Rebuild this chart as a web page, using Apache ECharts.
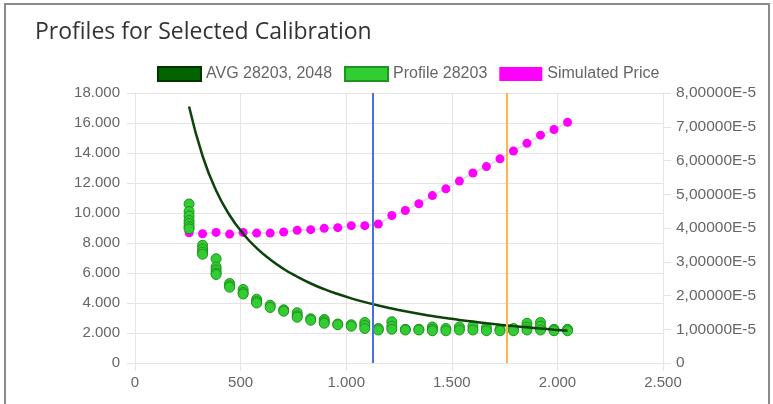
<!DOCTYPE html>
<html>
<head>
<meta charset="utf-8">
<script src="https://cdn.jsdelivr.net/npm/echarts@6/dist/echarts.min.js"></script>
<style>
html,body{margin:0;padding:0;background:#fff;}
#chart{width:773px;height:404px;}
</style>
</head>
<body>
<div id="chart"></div>
<script>
const titleText = 'Profiles for Selected Calibration';
const seriesNames = ['AVG 28203, 2048', 'Profile 28203', 'Simulated Price'];
const xValues = [256, 320, 384, 448, 512, 576, 640, 704, 768, 832, 896, 960, 1024, 1088, 1152,
  1216, 1280, 1344, 1408, 1472, 1536, 1600, 1664, 1728, 1792, 1856, 1920, 1984, 2048];
const avgValues = [17100, 13800, 11500, 9850, 8620, 7660, 6900, 6270, 5750, 5300, 4920, 4600, 4310, 4060, 3830,
  3630, 3450, 3290, 3130, 3000, 2870, 2760, 2650, 2550, 2460, 2380, 2300, 2220, 2150];
const profileValues = [
  [10600, 10100, 9800, 9500, 9300, 9100, 8950],
  [7850, 7600, 7400, 7250],
  [6950, 6400, 6200, 6000, 5900],
  [5300, 5150, 5050],
  [4900, 4700, 4600],
  [4250, 4100, 4000],
  [3850, 3700],
  [3550, 3450],
  [3350, 3150, 3050],
  [2950, 2850],
  [2900, 2750, 2650],
  [2600, 2550],
  [2550, 2450],
  [2700, 2500, 2300],
  [2300, 2200],
  [2750, 2450, 2250],
  [2250, 2200],
  [2250, 2200],
  [2400, 2250, 2150],
  [2300, 2150],
  [2400, 2200],
  [2450, 2200],
  [2350, 2150],
  [2250, 2150],
  [2300, 2150],
  [2650, 2400, 2200],
  [2700, 2450, 2200],
  [2250, 2150],
  [2250, 2150]
];
const simPrice = [3.86e-5, 3.83e-5, 3.87e-5, 3.82e-5, 3.87e-5, 3.85e-5, 3.85e-5, 3.88e-5, 3.93e-5, 3.95e-5,
  3.99e-5, 4.01e-5, 4.07e-5, 4.07e-5, 4.12e-5, 4.37e-5, 4.52e-5, 4.72e-5, 4.96e-5, 5.16e-5,
  5.39e-5, 5.63e-5, 5.82e-5, 6.05e-5, 6.28e-5, 6.51e-5, 6.75e-5, 6.92e-5, 7.13e-5];
const markerLines = [{x: 1128, color: '#4a6fe3'}, {x: 1762, color: '#ffb54d'}];

function thousands(v) {
  const s = String(Math.round(v));
  return s.replace(/\B(?=(\d{3})+(?!\d))/g, '.');
}
function sci(v) {
  if (Math.abs(v) < 1e-12) return '0';
  return (v * 1e5).toFixed(5).replace('.', ',') + 'E-5';
}

const avgData = xValues.map((x, i) => [x, avgValues[i]]);
const simData = xValues.map((x, i) => [x, simPrice[i]]);
const profileData = [];
xValues.forEach((x, i) => profileValues[i].forEach(v => profileData.push([x, v])));

const gridColor = '#e4e4e4';
const labelFont = {color: '#666', fontSize: 15, fontFamily: 'Liberation Sans, Arial, sans-serif'};

const chart = echarts.init(document.getElementById('chart'), null, {renderer: 'canvas'});
chart.setOption({
  animation: false,
  backgroundColor: '#fff',
  title: {
    text: titleText, left: 30, top: 16,
    textStyle: {fontFamily: 'Open Sans, sans-serif', fontSize: 23, fontWeight: 'normal', color: '#333'}
  },
  legend: {
    data: seriesNames, left: 152, top: 61, itemWidth: 43, itemHeight: 14, itemGap: 12, icon: 'rect',
    textStyle: {color: '#666', fontSize: 16, fontFamily: 'Liberation Sans, Arial, sans-serif'}
  },
  graphic: [{
    type: 'rect', shape: {x: 5, y: 4, width: 764, height: 410},
    style: {fill: 'none', stroke: '#8a8a8a', lineWidth: 2}, silent: true, z: 100
  }],
  grid: {left: 135, right: 110, top: 93, bottom: 41},
  xAxis: {
    type: 'value', min: 0, max: 2500, interval: 500,
    axisLine: {show: true, lineStyle: {color: gridColor}},
    axisTick: {show: true, length: 8, lineStyle: {color: gridColor}},
    splitLine: {show: true, lineStyle: {color: gridColor}},
    axisLabel: Object.assign({margin: 12, formatter: thousands}, labelFont)
  },
  yAxis: [{
    type: 'value', min: 0, max: 18000, interval: 2000, position: 'left',
    axisLine: {show: true, lineStyle: {color: gridColor}},
    axisTick: {show: true, length: 8, lineStyle: {color: gridColor}},
    splitLine: {show: true, lineStyle: {color: gridColor}},
    axisLabel: Object.assign({margin: 15, formatter: thousands}, labelFont)
  }, {
    type: 'value', min: 0, max: 8e-5, interval: 1e-5, position: 'right',
    axisLine: {show: true, lineStyle: {color: gridColor}},
    axisTick: {show: true, length: 8, lineStyle: {color: gridColor}},
    splitLine: {show: false},
    axisLabel: Object.assign({margin: 13, formatter: sci}, labelFont, {fontSize: 15.5})
  }],
  series: [{
    name: seriesNames[2], type: 'line', yAxisIndex: 1, data: simData,
    symbol: 'circle', symbolSize: 9, showAllSymbol: true,
    itemStyle: {color: '#ff00ff'},
    lineStyle: {color: '#e2e2e2', width: 2},
    z: 2
  }, {
    name: seriesNames[1], type: 'scatter', data: profileData, symbolSize: 10,
    itemStyle: {color: '#32cd32', borderColor: '#1f931f', borderWidth: 1, opacity: 1},
    z: 3
  }, {
    name: seriesNames[0], type: 'line', data: avgData, smooth: true, showSymbol: false,
    itemStyle: {color: '#006400', borderColor: '#003300', borderWidth: 1},
    lineStyle: {color: '#0b430b', width: 2.5},
    z: 4,
    markLine: {
      silent: true, symbol: ['none', 'none'], label: {show: false},
      data: markerLines.map(m => ({xAxis: m.x, lineStyle: {color: m.color, width: 2, type: 'solid'}}))
    }
  }]
});
</script>
</body>
</html>
